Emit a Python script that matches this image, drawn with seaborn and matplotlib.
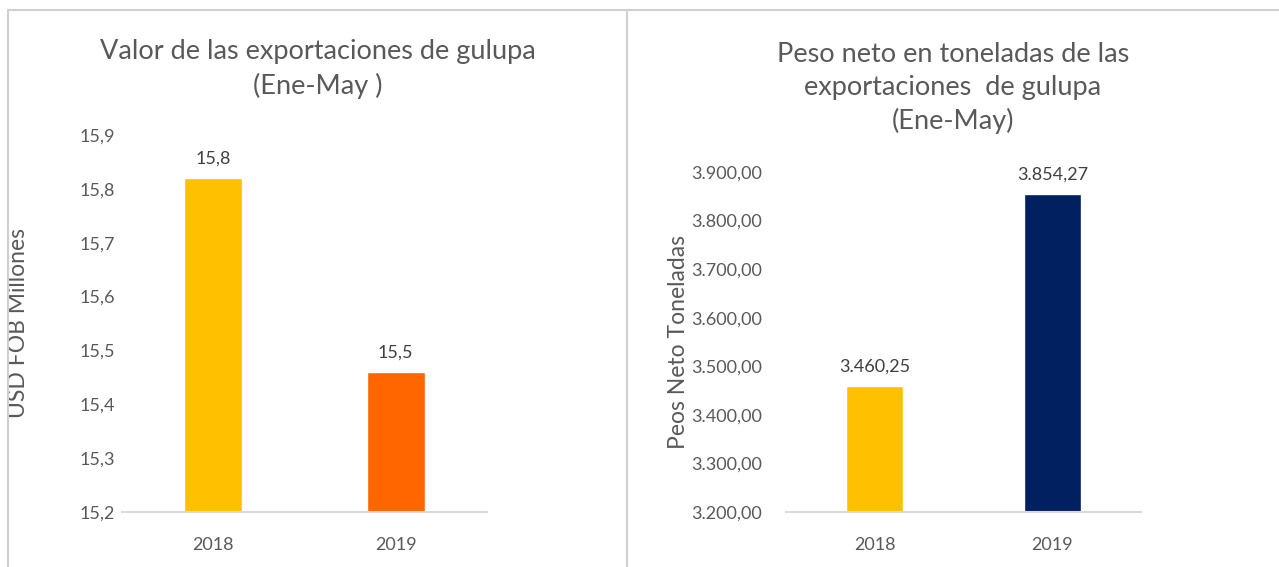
import matplotlib
matplotlib.use("Agg")
import matplotlib.pyplot as plt
import seaborn as sns
import pandas as pd
from matplotlib.ticker import FuncFormatter
from matplotlib.lines import Line2D

# === DATOS ===
anios = ["2018", "2019"]
valor_usd = [15.82, 15.46]
etiquetas_valor = ["15,8", "15,5"]
peso_ton = [3460.25, 3854.27]
etiquetas_peso = ["3.460,25", "3.854,27"]
colores_valor = ["#FFC000", "#FF6600"]
colores_peso = ["#FFC000", "#002060"]

sns.set_theme(style="white")
plt.rcParams["font.family"] = ["Lato", "DejaVu Sans"]
gris = "#595959"


def fmt_miles(v, pos=None):
    s = f"{v:,.2f}"
    return s.replace(",", "X").replace(".", ",").replace("X", ".")


def fmt_coma(v, pos=None):
    return f"{v:.1f}".replace(".", ",")


W, H = 1279, 567
fig = plt.figure(figsize=(12.79, 5.67), dpi=100)

# marcos de los graficos
for xs, ys in [([8, 1279], [10, 10]), ([8, 8], [10, 567]), ([627, 627], [10, 567])]:
    fig.add_artist(Line2D([v / W for v in xs], [1 - v / H for v in ys],
                          color="#D0D0D0", lw=1.5))

ax1 = fig.add_axes([122 / W, 1 - 512 / H, 365 / W, (512 - 135) / H])
ax2 = fig.add_axes([786 / W, 1 - 512 / H, 355 / W, (512 - 172) / H])

df1 = pd.DataFrame({"ANIO": anios, "VALOR": valor_usd})
df2 = pd.DataFrame({"ANIO": anios, "PESO": peso_ton})

sns.barplot(data=df1, x="ANIO", y="VALOR", hue="ANIO", palette=colores_valor,
            width=0.32, legend=False, ax=ax1, saturation=1)
sns.barplot(data=df2, x="ANIO", y="PESO", hue="ANIO", palette=colores_peso,
            width=0.32, legend=False, ax=ax2, saturation=1)

ax1.set_ylim(15.2, 15.9)
ax1.set_yticks([15.2, 15.3, 15.4, 15.5, 15.6, 15.7, 15.8, 15.9])
ax1.yaxis.set_major_formatter(FuncFormatter(fmt_coma))
ax2.set_ylim(3200, 3900)
ax2.set_yticks(range(3200, 3901, 100))
ax2.yaxis.set_major_formatter(FuncFormatter(fmt_miles))

for ax, etiquetas, vals in [(ax1, etiquetas_valor, valor_usd), (ax2, etiquetas_peso, peso_ton)]:
    ax.set_xlim(-0.5, 1.5)
    for i, (t, v) in enumerate(zip(etiquetas, vals)):
        ax.annotate(t, (i, v), xytext=(0, 8), textcoords="offset points",
                    ha="center", va="bottom", fontsize=13, color="#404040")
    for s in ["top", "right", "left"]:
        ax.spines[s].set_visible(False)
    ax.spines["bottom"].set_color("#D9D9D9")
    ax.spines["bottom"].set_linewidth(1.5)
    ax.tick_params(axis="both", length=0, labelsize=13, colors=gris)
    ax.tick_params(axis="x", pad=18)
    ax.set_xlabel("")

ax1.tick_params(axis="y", pad=5)
ax2.tick_params(axis="y", pad=17)

ax1.set_ylabel("USD FOB Millones", fontsize=16.5, color=gris)
ax2.set_ylabel("Peos Neto Toneladas", fontsize=16.5, color=gris)
ax1.yaxis.set_label_coords(-(122 - 29) / 365, 0.5)
ax2.yaxis.set_label_coords(-(786 - 689) / 355, 0.5)

fig.text(318 / W, 1 - 69 / H, "Valor de las exportaciones de gulupa\n(Ene-May )",
         ha="center", va="center", fontsize=19.5, color=gris, linespacing=1.4)
fig.text(953 / W, 1 - 88 / H, "Peso neto en toneladas de las\nexportaciones  de gulupa\n(Ene-May)",
         ha="center", va="center", fontsize=19.5, color=gris, linespacing=1.4)

fig.savefig("out.png", dpi=100)
